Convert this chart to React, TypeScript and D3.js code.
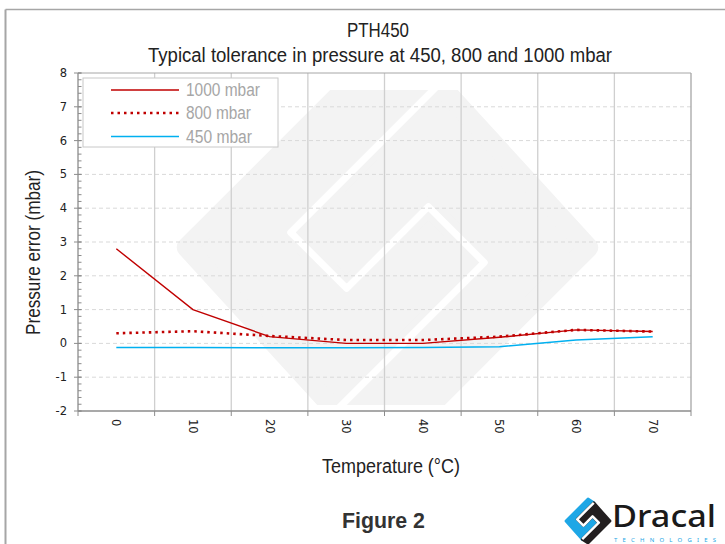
import React from "react";
import * as d3 from "d3";

const categories = ["0", "10", "20", "30", "40", "50", "60", "70"];
const series1000 = [2.8, 1.0, 0.2, 0.0, 0.0, 0.18, 0.4, 0.35];
const series800 = [0.3, 0.36, 0.22, 0.1, 0.1, 0.2, 0.4, 0.35];
const series450 = [-0.12, -0.12, -0.13, -0.13, -0.12, -0.1, 0.1, 0.2];
const yTicks = [-2, -1, 0, 1, 2, 3, 4, 5, 6, 7, 8];
const seriesNames = ["1000 mbar", "800 mbar", "450 mbar"];

const W = 725;
const H = 544;
const M = { left: 78, right: 691, top: 73, bottom: 411 };
const NARROW = "'Liberation Sans', Arial, sans-serif";
const TICKFONT = "'DejaVu Sans', Verdana, sans-serif";

// normalized S-gap points of the logo (units of half-diagonal)
const S = [
  [0.24, -0.76],
  [-0.45, -0.07],
  [-0.19, 0.19],
  [0.19, -0.19],
  [0.45, 0.07],
  [-0.24, 0.76],
];

function Logo({ cx, cy, R, round, gap, colL, colR, clipId }: any) {
  const r = R - round * 1.0;
  const p = (pt: number[]) => [cx + pt[0] * R, cy + pt[1] * R];
  const T = [cx, cy - r];
  const Rt = [cx + r, cy];
  const B = [cx, cy + r];
  const L = [cx - r, cy];
  const sp = S.map(p);
  const line = d3.line();
  const leftPoly = [sp[0], T, L, sp[5], sp[4], sp[3], sp[2], sp[1]] as [number, number][];
  const rightPoly = [sp[0], Rt, B, sp[5], sp[4], sp[3], sp[2], sp[1]] as [number, number][];
  return (
    <g clipPath={clipId ? `url(#${clipId})` : undefined}>
      <path d={line(leftPoly) + "Z"} fill={colL} stroke={colL} strokeWidth={round * 1.4} strokeLinejoin="round" />
      <path d={line(rightPoly) + "Z"} fill={colR} stroke={colR} strokeWidth={round * 1.4} strokeLinejoin="round" />
      <path d={line(sp as [number, number][]) as string} fill="none" stroke="#fff" strokeWidth={gap} strokeLinejoin="round" strokeLinecap="butt" />
    </g>
  );
}

export default function App() {
  const x = d3.scaleBand().domain(categories).range([M.left, M.right]);
  const y = d3.scaleLinear().domain([-2, 8]).range([M.bottom, M.top]);
  const cx = (c: string) => (x(c) as number) + x.bandwidth() / 2;
  const lineGen = d3
    .line<number>()
    .x((_, i) => cx(categories[i]))
    .y((d) => y(d));

  const minor = d3.range(-2, 8.0001, 0.2).map((v) => Math.round(v * 10) / 10);
  const bounds = categories.map((c) => x(c) as number).concat([M.right]);

  const legendX = 83;
  const legendY = 78;
  const legendRows = [90, 113, 136.5];
  const legendWidths = [74, 65, 66];
  const legendStyles = [
    { stroke: "#c00000", width: 1.5, dash: undefined },
    { stroke: "#c00000", width: 2.5, dash: "2.5 4" },
    { stroke: "#00b0f0", width: 1.5, dash: undefined },
  ];

  return (
    <svg width={W} height={H} style={{ position: "absolute", left: 0, top: 0, background: "#fff" }}>
      <defs>
        <clipPath id="wmclip">
          <rect x={0} y={90} width={W} height={315} />
        </clipPath>
        <clipPath id="logoclip">
          <rect x={0} y={0} width={W} height={H} />
        </clipPath>
      </defs>
      {/* outer frame */}
      <line x1={5.5} x2={W} y1={9.5} y2={9.5} stroke="#a6a6a6" strokeWidth={1.5} />
      <line x1={5.5} x2={5.5} y1={9.5} y2={H} stroke="#a6a6a6" strokeWidth={2} />

      {/* watermark */}
      <Logo cx={387.5} cy={247.5} R={215} round={14} gap={7} colL="#f3f3f3" colR="#f3f3f3" clipId="wmclip" />

      {/* horizontal dashed grid */}
      {yTicks.filter((t) => t !== 8 && t !== -2).map((t) => (
        <line key={"hg" + t} x1={M.left} x2={M.right} y1={y(t)} y2={y(t)} stroke="#d9d9d9" strokeWidth={1} strokeDasharray="4 3" />
      ))}
      {/* vertical grid */}
      {bounds.slice(1, -1).map((b, i) => (
        <line key={"vg" + i} x1={b} x2={b} y1={M.top} y2={M.bottom} stroke="#cfcfcf" strokeWidth={1.3} />
      ))}
      {/* plot border */}
      <line x1={M.left} x2={M.right} y1={M.top} y2={M.top} stroke="#a6a6a6" strokeWidth={1} />
      <line x1={M.right} x2={M.right} y1={M.top} y2={M.bottom} stroke="#a6a6a6" strokeWidth={1.3} />

      {/* axes */}
      <line x1={M.left} x2={M.left} y1={M.top} y2={M.bottom} stroke="#8c8c8c" strokeWidth={1.3} />
      <line x1={M.left} x2={M.right} y1={M.bottom} y2={M.bottom} stroke="#8c8c8c" strokeWidth={1.3} />
      {minor.map((m, i) => (
        <line key={"mt" + i} x1={M.left} x2={M.left + 3.5} y1={y(m)} y2={y(m)} stroke="#8c8c8c" strokeWidth={1} />
      ))}
      {yTicks.map((t) => (
        <g key={"yt" + t}>
          <line x1={M.left - 4} x2={M.left + 3.5} y1={y(t)} y2={y(t)} stroke="#8c8c8c" strokeWidth={1} />
          <text x={67} y={y(t)} dy="0.35em" textAnchor="end" fontFamily={TICKFONT} fontSize={11.5} fill="#222">
            {t}
          </text>
        </g>
      ))}
      {bounds.map((b, i) => (
        <line key={"xt" + i} x1={b} x2={b} y1={M.bottom} y2={M.bottom + 5} stroke="#8c8c8c" strokeWidth={1} />
      ))}
      {categories.map((c) => (
        <text key={"xl" + c} transform={`translate(${cx(c)},${419}) rotate(90)`} dy="0.35em" textAnchor="start" fontFamily={TICKFONT} fontSize={11.5} fill="#222">
          {c}
        </text>
      ))}

      {/* series */}
      <path d={lineGen(series450) as string} fill="none" stroke="#00b0f0" strokeWidth={1.5} />
      <path d={lineGen(series1000) as string} fill="none" stroke="#c00000" strokeWidth={1.4} />
      <path d={lineGen(series800) as string} fill="none" stroke="#c00000" strokeWidth={2.6} strokeDasharray="2.5 4" />

      {/* legend */}
      <rect x={legendX} y={legendY} width={195} height={69} fill="#fff" stroke="#c8c8c8" strokeWidth={1} />
      {seriesNames.map((n, i) => (
        <g key={n}>
          <line x1={111} x2={179} y1={legendRows[i]} y2={legendRows[i]} stroke={legendStyles[i].stroke} strokeWidth={legendStyles[i].width} strokeDasharray={legendStyles[i].dash} />
          <text x={186} y={legendRows[i] + 6} fontFamily={NARROW} fontSize={17.5} fill="#a6a6a6" textLength={legendWidths[i]} lengthAdjust="spacingAndGlyphs">
            {n}
          </text>
        </g>
      ))}

      {/* titles */}
      <text x={347} y={37} fontFamily={NARROW} fontSize={19.5} fill="#222" textLength={62} lengthAdjust="spacingAndGlyphs">
        PTH450
      </text>
      <text x={148} y={62} fontFamily={NARROW} fontSize={19.5} fill="#222" textLength={464} lengthAdjust="spacingAndGlyphs">
        Typical tolerance in pressure at 450, 800 and 1000 mbar
      </text>
      <text transform={`translate(40,335) rotate(-90)`} fontFamily={NARROW} fontSize={19.5} fill="#222" textLength={165} lengthAdjust="spacingAndGlyphs">
        Pressure error (mbar)
      </text>
      <text x={322} y={473} fontFamily={NARROW} fontSize={19.5} fill="#222" textLength={138} lengthAdjust="spacingAndGlyphs">
        Temperature (°C)
      </text>
      <text x={342} y={528} fontFamily={NARROW} fontSize={22.5} fontWeight="bold" fill="#333" textLength={83} lengthAdjust="spacingAndGlyphs">
        Figure 2
      </text>

      {/* Dracal logo */}
      <Logo cx={588} cy={521} R={24} round={2} gap={2.5} colL="#1ea7e6" colR="#231f20" clipId="logoclip" />
      <text x={612} y={526.5} fontFamily="'Noto Sans', 'Open Sans', sans-serif" fontSize={31} fontWeight={500} fill="#1a1a1a" textLength={104} lengthAdjust="spacingAndGlyphs">
        Dracal
      </text>
      <text x={614} y={541.5} fontFamily="'Noto Sans', sans-serif" fontSize={6} fill="#1ea7e6" textLength={102} lengthAdjust="spacing">
        TECHNOLOGIES
      </text>
    </svg>
  );
}
